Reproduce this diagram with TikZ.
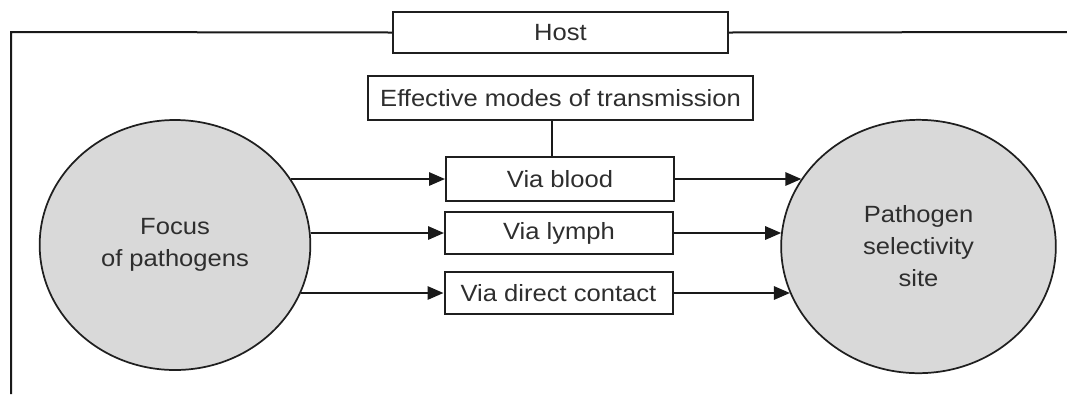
\documentclass[tikz,border=0pt]{standalone}
\usepackage{fontspec}
\setmainfont{Liberation Sans}[FakeStretch=1.09]
\usetikzlibrary{arrows.meta,shapes.geometric}

\begin{document}
\begin{tikzpicture}[x=0.75pt,y=0.75pt,yscale=-1,xscale=1,
  every node/.style={font=\fontsize{17.6}{24}\selectfont, text=black!82},
  modebox/.style={draw=black!88, line width=1.5pt, fill=white, minimum height=33pt, inner sep=0pt},
  focusdisc/.style={ellipse, draw=black!88, line width=1.3pt, fill=black!15, inner sep=0pt, align=center},
  conn/.style={draw=black!90, line width=1.5pt},
  arr/.style={conn, -{Triangle[length=12pt,width=10pt]}}
]
\useasboundingbox (0,0) rectangle (1067,394);

% Text Node
\draw (560.5,32.5) node [modebox, minimum width=251pt, minimum height=31pt] (host) {Host};
% Text Node
\draw (560.5,98) node [modebox, minimum width=289pt] (trans) {Effective modes of transmission};
% Text Node
\draw (560,179) node [modebox, minimum width=171pt] (blood) {Via blood};
% Text Node
\draw (559,233) node [modebox, minimum width=171pt, minimum height=32pt] (lymph) {Via lymph};
% Text Node
\draw (558.5,293) node [modebox, minimum width=171pt, minimum height=32pt] (direct) {Via direct contact};
% Shape: Ellipse
\draw (175,245) node [focusdisc, minimum width=203pt, minimum height=187.5pt] (focus) {Focus\\of pathogens};
% Shape: Ellipse
\draw (918.5,246.5) node [focusdisc, minimum width=206pt, minimum height=190pt] (site) {Pathogen\\selectivity\\site};

% Host frame
\coordinate (tl) at (11,32);
\coordinate (bl) at (11,394);
\coordinate (tr) at (1067,32);
\draw [conn] (host.west) -- (tl) -- (bl) ;
\draw [conn] (host.east) -- (tr) ;

% Connection
\draw [conn] ([xshift=-6.4pt]trans.south) -- ([xshift=-6.4pt]trans.south |- blood.north) ;
% Connection
\draw [arr] (focus.30 |- blood.west) -- (blood.west) ;
% Connection
\draw [arr] (focus.5 |- lymph.west) -- (lymph.west) ;
% Connection
\draw [arr] (focus.-21 |- direct.west) -- (direct.west) ;
% Connection
\draw [arr] (blood.east) -- (blood.east -| site.150) ;
% Connection
\draw [arr] (lymph.east) -- (lymph.east -| site.174) ;
% Connection
\draw [arr] (direct.east) -- (direct.east -| site.200) ;

\end{tikzpicture}
\end{document}
